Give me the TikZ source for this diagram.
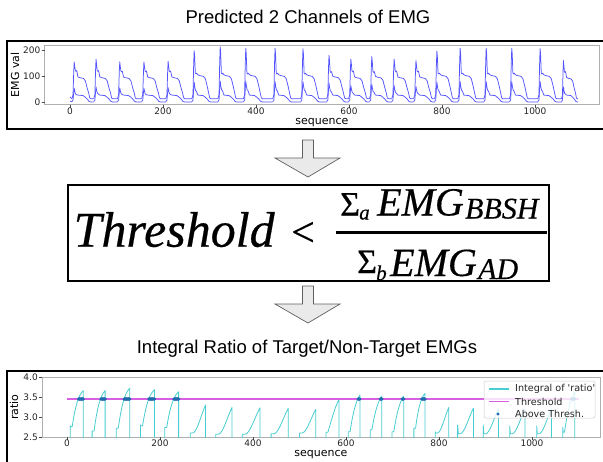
\documentclass[tikz,border=0pt]{standalone}
\usepackage{fontspec}
\setmainfont{Liberation Serif}
\newfontfamily\titlefont{Liberation Sans}
\newfontfamily\plotfont{DejaVu Sans}
\newfontfamily\formfont[FakeBold=0.4]{Liberation Serif}
\definecolor{emgblue}{RGB}{85,85,255}
\definecolor{ratiocyan}{RGB}{72,206,210}
\definecolor{thrmag}{RGB}{215,95,225}
\definecolor{dotblue}{RGB}{31,105,175}
\definecolor{framegray}{RGB}{175,175,175}
\definecolor{arrowfill}{RGB}{234,234,234}
\definecolor{arrowline}{RGB}{95,95,95}
\begin{document}
\begin{tikzpicture}[x=1pt,y=-1pt,
  titletext/.style={font=\titlefont\fontsize{18.5}{20}\selectfont, inner sep=0pt},
  panel/.style={draw=black, line width=1.4pt},
  plotframe/.style={draw=framegray, line width=0.6pt},
  tickmark/.style={draw=black!70, line width=0.5pt},
  ticklab/.style={font=\plotfont\fontsize{9}{10}\selectfont, inner sep=0pt, text=black!85},
  axlab/.style={font=\plotfont\fontsize{11}{12}\selectfont, inner sep=0pt},
  emg/.style={draw=emgblue, line width=0.75pt, line join=round},
  ratioline/.style={draw=ratiocyan, line width=0.8pt, line join=round},
  thrline/.style={draw=thrmag, line width=1.1pt},
  dotmark/.style={circle, fill=dotblue, inner sep=0pt, minimum size=3.4pt},
  blockarrow/.style={fill=arrowfill, draw=arrowline, line width=0.7pt, line join=miter},
  legtext/.style={font=\plotfont\fontsize{9.6}{11}\selectfont, inner sep=0pt, anchor=west, text=black!85},
  fsym/.style={inner sep=0pt, anchor=base west}
]
\useasboundingbox (0,0) rectangle (603,461);
\fill[white] (0,0) rectangle (603,461);
\clip (0,0) rectangle (603,461);

% ---------- titles ----------
\node[titletext] (title1) at (308,17) {Predicted 2 Channels of EMG};
\node[titletext] (title2) at (307,349) {Integral Ratio of Target/Non-Target EMGs};

% ---------- top panel ----------
\draw[panel] (606,41) -- (7,41) -- (7,129) -- (606,129);
\draw[plotframe] (44.5,45) rectangle (599,104.5);
\foreach \v in {0,200,400,600,800,1000} {
  \draw[tickmark] ({70+0.465*\v},104.5) -- ++(0,3);
  \node[ticklab] (tx\v) at ({70+0.465*\v},111) {\v};
}
\foreach \v in {0,100,200} {
  \draw[tickmark] (41.5,{102.7-0.2635*\v}) -- (44.5,{102.7-0.2635*\v});
  \node[ticklab, anchor=east] (ty\v) at (40.5,{102.7-0.2635*\v}) {\v};
}
\node[axlab, rotate=90] (ylab1) at (15,75) {EMG val};
\node[axlab] (xlab1) at (322,122.5) {sequence};

\begin{scope}[shift={(70,102.7)}, xscale=0.465, yscale=-0.2635]
  \draw[emg] (0,22) -- (4,15);
  \draw[emg] (0,6) -- (4,4);
  \foreach \ps/\pn/\pP/\pA/\pQ/\pR in {
     4/51/155/122/95/55, 51/102/165/122/95/60, 102/154/155/120/95/57,
     154/206/155/120/95/55, 206/262/157/120/95/57, 262/318/197/112/103/78,
     318/373/212/112/103/82, 373/436/207/112/103/82, 436/496/207/112/103/80,
     496/552/205/112/103/80, 552/599/180/118/98/75, 599/644/165/120/95/65,
     644/692/175/118/97/70, 692/739/165/120/95/65, 739/784/160/120/95/62,
     784/834/196/112/103/78, 834/890/207/112/103/80, 890/945/207/112/103/80,
     945/1006/207/112/103/80, 1006/1057/205/112/103/80, 1057/1092/160/118/93/60} {
    \pgfmathsetmacro\cc{min(1,(\pn-\ps)/42)}
    \draw[emg] (\ps,15) -- ({\ps+2.5*\cc},30) -- ({\ps+4*\cc},{0.75*\pP}) -- ({\ps+5*\cc},\pP)
      -- ({\ps+6*\cc},{0.9*\pP}) -- ({\ps+7.5*\cc},\pA) -- ({\ps+9*\cc},{\pA-3})
      -- ({\ps+10.5*\cc},\pA) -- ({\ps+13*\cc},{\pQ+3}) -- ({\ps+17*\cc},\pQ)
      -- ({\ps+25*\cc},{\pQ-3}) -- ({\ps+29*\cc},{\pQ-12}) -- ({\ps+33*\cc},{\pQ-40})
      -- ({\ps+36*\cc},38) -- ({\ps+38.5*\cc},18) -- ({\ps+41*\cc},15) -- (\pn,15);
    \draw[emg] (\ps,4) -- ({\ps+2.5*\cc},10) -- ({\ps+4*\cc},{0.7*\pR}) -- ({\ps+5*\cc},\pR)
      -- ({\ps+6.5*\cc},{0.75*\pR}) -- ({\ps+8*\cc},{0.6*\pR}) -- ({\ps+10*\cc},{0.55*\pR})
      -- ({\ps+13*\cc},29) -- ({\ps+24*\cc},27) -- ({\ps+28*\cc},22) -- ({\ps+33*\cc},14)
      -- ({\ps+37*\cc},5) -- ({\ps+40*\cc},3) -- (\pn,3);
  }
\end{scope}

% ---------- arrows ----------
\draw[blockarrow] (302.5,140) -- (313.5,140) -- (313.5,158) -- (340,158) -- (308,177)
  -- (275,158) -- (302.5,158) -- cycle;
\draw[blockarrow] (302.5,286) -- (313.5,286) -- (313.5,304) -- (340,304) -- (308,323)
  -- (275,304) -- (302.5,304) -- cycle;

% ---------- formula ----------
\draw[panel] (68,185) rectangle (549,281);
\node[fsym, font=\formfont\itshape\fontsize{50}{50}\selectfont] (thr) at (73.5,246.7) {Threshold};
\node[inner sep=0pt, font=\formfont\fontsize{42}{42}\selectfont] (lt) at (303,234) {<};
\draw[line width=2.2pt] (336,232.5) -- (547,232.5);
\node[fsym, font=\formfont\fontsize{34}{34}\selectfont] (sa) at (340,215.5) {Σ};
\node[fsym, font=\formfont\itshape\fontsize{21}{21}\selectfont] (suba) at (359,219.5) {a};
\node[fsym, font=\formfont\itshape\fontsize{40}{40}\selectfont] (emgn) at (377,215.5) {EMG};
\node[fsym, font=\formfont\itshape\fontsize{30}{30}\selectfont] (bbsh) at (465,218.5) {BBSH};
\node[fsym, font=\formfont\fontsize{34}{34}\selectfont] (sb) at (357,273) {Σ};
\node[fsym, font=\formfont\itshape\fontsize{21}{21}\selectfont] (subb) at (376,280) {b};
\node[fsym, font=\formfont\itshape\fontsize{40}{40}\selectfont] (emgd) at (390,276) {EMG};
\node[fsym, font=\formfont\itshape\fontsize{30}{30}\selectfont] (ad) at (478,279) {AD};

% ---------- bottom panel ----------
\draw[panel] (606,371) -- (7,371) -- (7,470);
\draw[plotframe] (42,377) rectangle (600,437);
\foreach \v in {0,200,400,600,800,1000} {
  \draw[tickmark] ({67+0.465*\v},437) -- ++(0,3);
  \node[ticklab] (bx\v) at ({67+0.465*\v},443) {\v};
}
\foreach \v/\lab in {4.0/4.0,3.5/3.5,3.0/3.0,2.5/2.5} {
  \draw[tickmark] (39,{537-40*\v}) -- (42,{537-40*\v});
  \node[ticklab, anchor=east] (by\lab) at (38,{537-40*\v}) {\lab};
}
\node[axlab, rotate=90] (ylab2) at (14,407) {ratio};
\node[axlab] (xlab2) at (321,455) {sequence};

\begin{scope}[shift={(67,537)}, xscale=0.465, yscale=-40]
  \clip (-54,2.5) rectangle (1150,4.0);
  \foreach \ps/\pe/\pj/\pd/\pp/\pk in {
     7/35/2.78/2.76/3.66/0.3, 54/82/2.65/2.65/3.66/0.3, 106/135/2.72/2.72/3.72/0.3,
     158/188/2.8/2.78/3.68/0.3, 210/240/2.74/2.74/3.63/0.3, 265/298/2.6/2.6/3.30/1,
     320/355/2.57/2.57/3.24/1, 377/415/2.57/2.57/3.23/1, 439/476/2.58/2.58/3.22/1,
     500/535/2.6/2.6/3.19/1, 557/585/2.62/2.62/3.44/0.6, 605/630/2.63/2.63/3.55/0.4,
     652/677/2.68/2.68/3.52/0.4, 699/724/2.63/2.63/3.52/0.4, 746/770/2.72/2.72/3.59/0.3,
     792/821/2.63/2.6/3.24/1, 840/874/2.8/2.58/3.22/1, 895/928/2.8/2.58/3.2/1,
     952/985/2.78/2.58/3.2/1, 1010/1042/2.78/2.58/3.2/1, 1066/1092/2.75/2.62/3.63/0.4} {
    \pgfmathsetmacro\D{\pe-\ps}
    \draw[ratioline] (\ps,2.3) -- (\ps,\pj) -- ({\ps+0.05*\D},\pd) -- ({\ps+0.15*\D},\pd)
      -- plot[domain=0:1, samples=16, smooth, variable=\x]
         ({\ps+(0.15+0.85*\x)*\D}, {\pd+(\pp-\pd)*((1-\pk)*(1-(1-\x)*(1-\x)*(1-\x))+\pk*(2*\x*\x-\x*\x*\x))})
      -- (\pe,2.3);
  }
  \draw[thrline] (0,3.45) -- (1100,3.45);
  \foreach \ps/\pe/\pd/\pp/\pk in {
     7/35/2.76/3.66/0.3, 54/82/2.65/3.66/0.3, 106/135/2.72/3.72/0.3,
     158/188/2.78/3.68/0.3, 210/240/2.74/3.63/0.3, 605/630/2.63/3.55/0.4,
     652/677/2.68/3.52/0.4, 699/724/2.63/3.52/0.4, 746/770/2.72/3.59/0.3,
     1066/1092/2.62/3.63/0.4} {
    \pgfmathsetmacro\D{\pe-\ps}
    \foreach \t in {\ps,...,\pe} {
      \pgfmathsetmacro\xx{max(0,((\t-\ps)/\D-0.15)/0.85)}
      \pgfmathsetmacro\vv{\pd+(\pp-\pd)*((1-\pk)*(1-(1-\xx)*(1-\xx)*(1-\xx))+\pk*(2*\xx*\xx-\xx*\xx*\xx))}
      \ifdim\vv pt>3.45pt \node[dotmark] (d\t) at (\t,3.45) {}; \fi
    }
  }
\end{scope}

% ---------- legend ----------
\draw[rounded corners=2pt, fill=white, fill opacity=0.8, draw=black!20, line width=0.5pt]
  (484,381) rectangle (595,418);
\draw[ratioline, line width=1.1pt] (489,389) -- (509,389);
\node[legtext] (leg1) at (515,389) {Integral of 'ratio'};
\draw[thrline] (489,401.7) -- (509,401.7);
\node[legtext] (leg2) at (515,401.7) {Threshold};
\node[dotmark] (legdot) at (498,414) {};
\node[legtext] (leg3) at (515,414) {Above Thresh.};
\end{tikzpicture}
\end{document}
